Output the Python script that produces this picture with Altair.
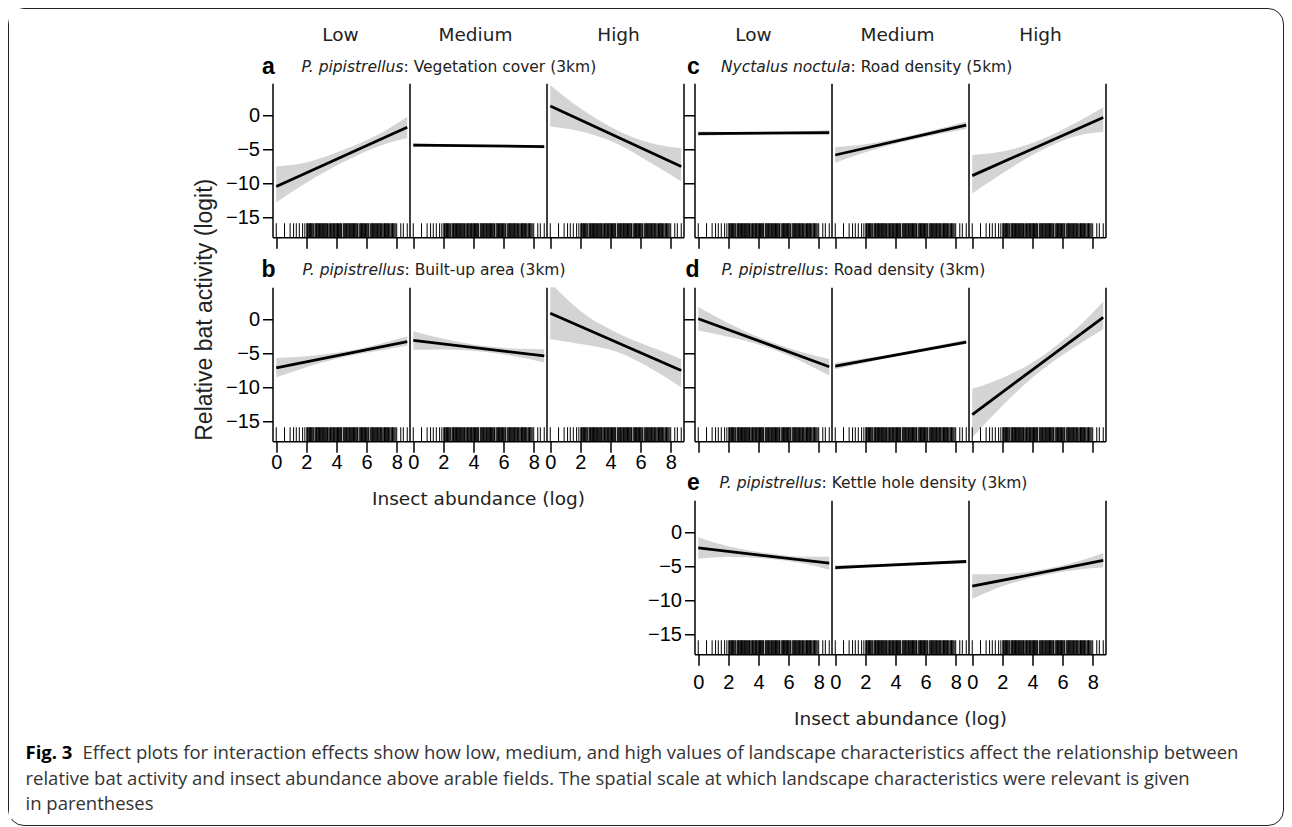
import altair as alt
import pandas as pd

# ---------------- data ----------------
levels = ["Low", "Medium", "High"]
fit_x = [0.0, 8.7]                      # insect abundance range of fitted lines
band_x = [0.0, 2.0, 4.5, 7.0, 8.7]      # points where the CI band was read

# rug of observed insect abundance (log) – same survey points in every panel
rug_x = [0.0, 0.55, 0.92, 1.15, 1.33, 1.53, 1.75, 1.9,
         2.03, 2.07, 2.12, 2.18, 2.22, 2.27, 2.33, 2.38, 2.44, 2.49, 2.58, 2.63,
         2.67, 2.72, 2.78, 2.82, 2.87, 2.93, 2.98, 3.03, 3.08, 3.13, 3.19, 3.24,
         3.29, 3.35, 3.40, 3.45, 3.55, 3.60, 3.65, 3.70, 3.76, 3.81, 3.86, 3.91,
         3.97, 4.02, 4.07, 4.13, 4.18, 4.23, 4.28, 4.34, 4.45, 4.50, 4.55, 4.61,
         4.66, 4.71, 4.76, 4.82, 4.87, 4.92, 4.98, 5.03, 5.08, 5.13, 5.19, 5.24,
         5.29, 5.35, 5.40, 5.50, 5.56, 5.61, 5.66, 5.72, 5.77, 5.82, 5.87, 5.93,
         5.98, 6.03, 6.09, 6.14, 6.24, 6.30, 6.35, 6.40, 6.45, 6.51, 6.56, 6.61,
         6.67, 6.72, 6.77, 6.82, 6.88, 6.93, 6.98, 7.04, 7.14, 7.19, 7.25, 7.30,
         7.35, 7.40, 7.46, 7.51, 7.61, 7.67, 7.72, 7.77, 7.83, 7.90, 8.0, 8.27,
         8.44, 8.7]

# a  P. pipistrellus: Vegetation cover (3km)
a_fit = {"Low": [-10.45, -1.7], "Medium": [-4.35, -4.55], "High": [1.45, -7.5]}
a_lower = {"Low": [-12.8, -9.9, -6.8, -4.35, -3.3],
           "Medium": [-4.65, -4.55, -4.55, -4.7, -4.85],
           "High": [-1.6, -2.3, -4.2, -7.4, -9.7]}
a_upper = {"Low": [-7.5, -6.9, -5.0, -2.5, -0.15],
           "Medium": [-4.05, -4.2, -4.35, -4.4, -4.3],
           "High": [4.5, 1.1, -2.2, -4.2, -4.8]}

# b  P. pipistrellus: Built-up area (3km)
b_fit = {"Low": [-7.1, -3.25], "Medium": [-3.05, -5.35], "High": [0.95, -7.5]}
b_lower = {"Low": [-8.5, -7.0, -5.5, -4.5, -3.85],
           "Medium": [-4.45, -4.38, -4.7, -5.5, -6.3],
           "High": [-2.9, -3.6, -4.8, -7.6, -10.0]}
b_upper = {"Low": [-5.65, -5.4, -4.7, -3.5, -2.45],
           "Medium": [-1.7, -2.8, -3.8, -4.3, -4.35],
           "High": [5.5, 1.3, -2.0, -4.3, -5.8]}

# c  Nyctalus noctula: Road density (5km)
c_fit = {"Low": [-2.65, -2.5], "Medium": [-5.8, -1.4], "High": [-8.85, -0.25]}
c_lower = {"Low": [-3.0, -2.85, -2.75, -2.8, -2.9],
           "Medium": [-6.95, -5.4, -3.87, -2.66, -1.95],
           "High": [-11.5, -8.5, -5.2, -2.95, -2.4]}
c_upper = {"Low": [-2.3, -2.4, -2.45, -2.3, -2.1],
           "Medium": [-4.6, -4.2, -3.17, -1.86, -0.85],
           "High": [-5.8, -5.3, -3.6, -0.9, 1.25]}

# d  P. pipistrellus: Road density (3km)
d_fit = {"Low": [0.15, -6.95], "Medium": [-6.85, -3.3], "High": [-14.0, 0.35]}
d_lower = {"Low": [-1.6, -2.5, -4.0, -6.3, -8.25],
           "Medium": [-7.3, -6.35, -5.2, -4.25, -3.6],
           "High": [-17.4, -12.7, -7.6, -3.75, -1.4]}
d_upper = {"Low": [1.9, -0.5, -3.0, -4.85, -5.8],
           "Medium": [-6.4, -5.7, -4.8, -3.7, -2.95],
           "High": [-10.2, -8.6, -5.6, -1.15, 2.7]}

# e  P. pipistrellus: Kettle hole density (3km)
e_fit = {"Low": [-2.25, -4.5], "Medium": [-5.15, -4.25], "High": [-7.9, -4.1]}
e_lower = {"Low": [-3.85, -3.55, -3.8, -4.55, -5.45],
           "Medium": [-5.5, -5.05, -4.8, -4.55, -4.5],
           "High": [-9.75, -7.9, -6.4, -5.45, -5.15]}
e_upper = {"Low": [-0.65, -2.0, -3.0, -3.55, -3.5],
           "Medium": [-4.8, -4.7, -4.5, -4.25, -4.0],
           "High": [-6.15, -6.1, -5.5, -4.25, -3.0]}

x_ticks = [0, 2, 4, 6, 8]
y_ticks = [0, -5, -10, -15]
x_title = "Insect abundance (log)"
y_title = "Relative bat activity (logit)"
caption_bold = "Fig. 3"
caption_lines = [
    "Effect plots for interaction effects show how low, medium, and high values of landscape characteristics affect the relationship between",
    "relative bat activity and insect abundance above arable fields. The spatial scale at which landscape characteristics were relevant is given",
    "in parentheses",
]

# ---------------- layout / style ----------------
W, H = 137, 154
X_DOM = [-0.25, 8.85]
Y_DOM = [-17.95, 4.8]
BAND = "#d4d4d4"
HEAD_FONT = "DejaVu Sans"
NUM_FONT = "Liberation Sans"
CAP_FONT = "Open Sans"
CAP_SIZE = 18.5


def txt(s, x, y, size, font=HEAD_FONT, weight="normal", style="normal",
        align="left", color="#222222"):
    return alt.Chart(pd.DataFrame({"t": [s]})).mark_text(
        align=align, baseline="middle", font=font, fontSize=size,
        fontWeight=weight, fontStyle=style, color=color
    ).encode(text="t:N", x=alt.value(x), y=alt.value(y))


def cell(fit, lower, upper, level, y_mode, x_labels, xt, height=H,
         y_range=None, texts=(), ylab_title=False, lab_pad=4, title_y=60):
    band_df = pd.DataFrame({"x": band_x, "lo": lower[level], "hi": upper[level]})
    fit_df = pd.DataFrame({"x": fit_x, "y": fit[level]})
    rug_df = pd.DataFrame({"x": rug_x})

    ys = dict(domain=Y_DOM, nice=False, zero=False)
    if y_range is not None:
        ys["range"] = y_range
    yscale = alt.Scale(**ys)
    xscale = alt.Scale(domain=X_DOM, nice=False, zero=False)

    xkw = dict(values=x_ticks, labels=x_labels, ticks=True, tickSize=11,
               domain=True, grid=False, labelPadding=lab_pad)
    if xt:
        xkw.update(title=xt, titleY=title_y, titleBaseline="middle")
    else:
        xkw["title"] = None
    xaxis = alt.Axis(**xkw)

    if y_mode in ("labels", "ticks"):
        kw = dict(values=y_ticks, ticks=True, grid=False, domain=True,
                  labels=(y_mode == "labels"),
                  tickSize=10 if y_mode == "labels" else 11, labelPadding=3)
        if ylab_title:
            kw.update(title=y_title, titleX=-68, titleY=226, titleAngle=-90,
                      titleAlign="center", titleBaseline="middle",
                      titleFont=NUM_FONT, titleFontSize=23,
                      titleFontWeight="normal")
        else:
            kw["title"] = None
        yaxis = alt.Axis(**kw)
    else:
        yaxis = alt.Axis(labels=False, ticks=False, domain=True, grid=False,
                         title=None)

    band = alt.Chart(band_df).mark_area(
        color=BAND, interpolate="monotone", clip=True
    ).encode(
        x=alt.X("x:Q", scale=xscale, axis=xaxis),
        y=alt.Y("lo:Q", scale=yscale, axis=yaxis),
        y2="hi:Q",
    )
    if level == "High":
        line_axis = alt.Axis(orient="right", labels=False, ticks=False,
                             domain=True, grid=False, title=None)
    else:
        line_axis = yaxis
    line = alt.Chart(fit_df).mark_line(color="black", strokeWidth=2.8).encode(
        x=alt.X("x:Q", scale=xscale, axis=xaxis),
        y=alt.Y("y:Q", scale=yscale, axis=line_axis),
    )
    rug = alt.Chart(rug_df).mark_rule(color="black", strokeWidth=1).encode(
        x=alt.X("x:Q", scale=xscale, axis=xaxis),
        y=alt.value(height), y2=alt.value(height - 14),
    )
    ch = alt.layer(band, line, rug, *texts).properties(width=W, height=height)
    if level == "High":
        ch = ch.resolve_axis(y="independent")
    return ch


def blank(w, h):
    return alt.Chart(pd.DataFrame({"t": [""]})).mark_text().encode(
        text="t:N", x=alt.value(0), y=alt.value(0)
    ).properties(width=w, height=h)


def panel_title(letter, species, rest, lx, ty, join, size=15.5):
    # italic species name ends exactly where the regular text starts
    return [
        txt(letter, lx, ty, 23, font=NUM_FONT, weight="bold", align="center",
            color="black"),
        txt(species, join, ty, size, style="italic", align="right"),
        txt(rest, join, ty, size),
    ]


head_a = {"Low": 68, "Medium": 66, "High": 72}
head_c = {"Low": 59, "Medium": 66, "High": 72}

cells = []
# row 1 : a | c
for lv in levels:
    t = [txt(lv, head_a[lv], -48, 18.5, align="center")]
    if lv == "Low":
        t += panel_title("a", "P. pipistrellus", ": Vegetation cover (3km)", -4, -16, 131)
    cells.append(cell(a_fit, a_lower, a_upper, lv,
                      "labels" if lv == "Low" else "none", False, None,
                      texts=t, ylab_title=(lv == "Low")))
cells.append(blank(11, 1))
for lv in levels:
    t = [txt(lv, head_c[lv], -48, 18.5, align="center")]
    if lv == "Low":
        t += panel_title("c", "Nyctalus noctula", ": Road density (5km)", -1, -16, 156)
    cells.append(cell(c_fit, c_lower, c_upper, lv,
                      "ticks" if lv == "Low" else "none", False, None, texts=t))
# row 2 : b | d
for lv in levels:
    t = []
    if lv == "Low":
        t += panel_title("b", "P. pipistrellus", ": Built-up area (3km)", -4, -17, 132)
    cells.append(cell(b_fit, b_lower, b_upper, lv,
                      "labels" if lv == "Low" else "none", True,
                      x_title if lv == "Medium" else None, texts=t,
                      lab_pad=0, title_y=57))
cells.append(blank(11, 1))
for lv in levels:
    t = []
    if lv == "Low":
        t += panel_title("d", "P. pipistrellus", ": Road density (3km)", -2, -17, 129)
    cells.append(cell(d_fit, d_lower, d_upper, lv,
                      "ticks" if lv == "Low" else "none", False, None, texts=t))
# row 3 : (empty) | e
cells += [blank(W, 1), blank(W, 1), blank(W, 1), blank(11, 1)]
for lv in levels:
    t = []
    if lv == "Low":
        t += panel_title("e", "P. pipistrellus", ": Kettle hole density (3km)", -1, -8, 127)
    cells.append(cell(e_fit, e_lower, e_upper, lv,
                      "labels" if lv == "Low" else "none", True,
                      x_title if lv == "Medium" else None,
                      height=H + 9, y_range=[H + 9, 9], texts=t,
                      lab_pad=7, title_y=64))
# row 4 : caption
cap_x = -247
cap = alt.layer(
    txt(caption_bold, cap_x, 49, CAP_SIZE, font=CAP_FONT, weight="bold", color="black"),
    txt(caption_lines[0], cap_x + 57, 49, CAP_SIZE, font=CAP_FONT, color="#333333"),
    txt(caption_lines[1], cap_x, 75, CAP_SIZE, font=CAP_FONT, color="#333333"),
    txt(caption_lines[2], cap_x, 100, CAP_SIZE, font=CAP_FONT, color="#333333"),
).properties(width=W, height=1)
cells.append(cap)

chart = alt.concat(
    *cells, columns=7, spacing={"row": 50, "column": 0},
    bounds="flush", align="each",
).properties(
    padding={"left": 15.5, "top": 16.25, "right": 5, "bottom": 5},
    background="white",
).configure_view(
    stroke="transparent"
).configure_axis(
    domainColor="black", domainWidth=1.5, tickColor="black", tickWidth=1.5,
    labelFont=NUM_FONT, labelFontSize=20, labelColor="black",
    titleFont=HEAD_FONT, titleFontSize=18.5, titleFontWeight="normal",
    titleColor="#222222",
)

css = (".vega-embed{display:block;width:1282px;height:818px;box-sizing:border-box;"
       "border:1.5px solid #222;border-radius:16px;} body{overflow:hidden;}")
chart.save("out.html", embed_options={"renderer": "svg", "actions": False,
                                      "defaultStyle": css})
